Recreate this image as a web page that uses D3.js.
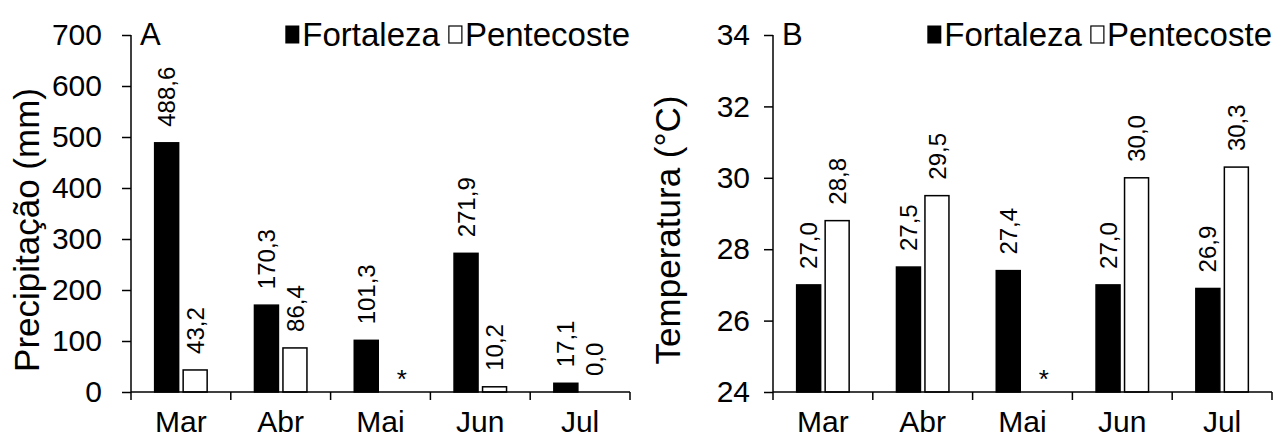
<!DOCTYPE html>
<html>
<head>
<meta charset="utf-8">
<script src="https://cdn.jsdelivr.net/npm/d3@7"></script>
<style>
  body { margin: 0; background: #fff; }
  text { font-family: "Liberation Sans", Arial, sans-serif; fill: #000; }
</style>
</head>
<body>
<svg id="chart" width="1275" height="441"></svg>
<script>
// Data
var months = ['Mar', 'Abr', 'Mai', 'Jun', 'Jul'];
var series = ['Fortaleza', 'Pentecoste'];
// null = no data (marked with *)
var rainFortaleza = [488.6, 170.3, 101.3, 271.9, 17.1];
var rainPentecoste = [43.2, 86.4, null, 10.2, 0.0];
var tempFortaleza = [27.0, 27.5, 27.4, 27.0, 26.9];
var tempPentecoste = [28.8, 29.5, null, 30.0, 30.3];
var rainTicks = [0, 100, 200, 300, 400, 500, 600, 700];
var tempTicks = [24, 26, 28, 30, 32, 34];

var svg = d3.select('#chart');
var fmt = function(v) { return v.toFixed(1).replace('.', ','); };

function drawPanel(opts) {
    var x0 = opts.left, y0 = 35, w = 499, h = 357;
    var g = svg.append('g').attr('transform', 'translate(' + x0 + ',' + y0 + ')');

    var x = d3.scaleBand().domain(months).range([0, w]).padding(0);
    var step = 28.5;
    var x1 = d3.scaleBand().domain(series)
        .range([0, x.bandwidth()])
        .paddingInner(4.5 / step)
        .paddingOuter((x.bandwidth() / step - 2 + 4.5 / step) / 2);
    var y = d3.scaleLinear().domain(opts.domain).range([h, 0]);

    // rows of data
    var rows = [];
    months.forEach(function(m, i) {
        rows.push({ m: m, s: 'Fortaleza', v: opts.a[i] });
        rows.push({ m: m, s: 'Pentecoste', v: opts.b[i] });
    });

    // bars
    g.selectAll('rect.bar').data(rows.filter(function(d) { return d.v !== null && d.v > 0; }))
        .enter().append('rect')
        .attr('class', 'bar')
        .attr('x', function(d) { return x(d.m) + x1(d.s); })
        .attr('y', function(d) { return y(d.v); })
        .attr('width', x1.bandwidth())
        .attr('height', function(d) { return h - y(d.v); })
        .attr('fill', function(d) { return d.s === 'Fortaleza' ? '#000' : '#fff'; })
        .attr('stroke', '#000')
        .attr('stroke-width', 1.5);

    // value labels
    g.selectAll('text.val').data(rows.filter(function(d) { return d.v !== null; }))
        .enter().append('text')
        .attr('class', 'val')
        .attr('transform', function(d) {
            var cx = x(d.m) + x1(d.s) + x1.bandwidth() / 2;
            return 'translate(' + cx + ',' + (y(d.v) - opts.labelGap) + ') rotate(-90)';
        })
        .attr('dy', '0.36em')
        .style('font-size', '24px')
        .text(function(d) { return fmt(d.v); });

    // missing marker
    g.selectAll('text.miss').data(rows.filter(function(d) { return d.v === null; }))
        .enter().append('text')
        .attr('class', 'miss')
        .attr('x', function(d) { return x(d.m) + x1(d.s) + x1.bandwidth() / 2 + 7; })
        .attr('y', h - 4)
        .attr('text-anchor', 'middle')
        .style('font-size', '26px')
        .text('*');

    // y axis
    var yAxis = g.append('g')
        .call(d3.axisLeft(y).tickValues(opts.ticks).tickSize(9).tickPadding(opts.tickPad)
            .tickFormat(function(d) { return d; }));
    yAxis.selectAll('text').style('font-size', '30px').attr('font-family', null);
    yAxis.select('.domain').attr('d', 'M0,0V' + h);
    yAxis.selectAll('line, path').attr('stroke', '#000').attr('stroke-width', 1.5);

    // x axis
    var xAxis = g.append('g').attr('transform', 'translate(0,' + h + ')')
        .call(d3.axisBottom(x).tickSize(0).tickPadding(19));
    xAxis.selectAll('text').style('font-size', '30px').attr('font-family', null);
    xAxis.select('.domain').attr('d', 'M0,0H' + w);
    xAxis.selectAll('path').attr('stroke', '#000').attr('stroke-width', 1.5);
    xAxis.selectAll('line.sep').data(d3.range(months.length + 1))
        .enter().append('line').attr('class', 'sep')
        .attr('x1', function(i) { return i * x.step(); })
        .attr('x2', function(i) { return i * x.step(); })
        .attr('y1', 0).attr('y2', 8)
        .attr('stroke', '#000').attr('stroke-width', 1.5);

    // axis title
    svg.append('text')
        .attr('transform', 'translate(' + opts.titleX + ',' + opts.titleY + ') rotate(-90)')
        .attr('text-anchor', 'middle')
        .attr('dy', '0.35em')
        .style('font-size', '35px')
        .text(opts.title);

    // panel letter
    g.append('text').attr('x', 9).attr('y', 10).style('font-size', '31px').text(opts.letter);

    // legend, right aligned to the end of the x axis
    var lg = g.append('g');
    var t2 = lg.append('text').attr('y', 11).style('font-size', '33px').text(series[1]);
    var t1 = lg.append('text').attr('y', 11).style('font-size', '33px').text(series[0]);
    var w2 = t2.node().getComputedTextLength(), w1 = t1.node().getComputedTextLength();
    var p = w - w2;
    t2.attr('x', p);
    lg.append('rect').attr('x', p - 16).attr('y', -9).attr('width', 13).attr('height', 17)
        .attr('fill', '#fff').attr('stroke', '#000').attr('stroke-width', 1.2);
    p = p - 25 - w1;
    t1.attr('x', p);
    lg.append('rect').attr('x', p - 17).attr('y', -9.5).attr('width', 14).attr('height', 18)
        .attr('fill', '#000');
}

drawPanel({ left: 131, domain: [0, 700], ticks: rainTicks, a: rainFortaleza, b: rainPentecoste,
    title: 'Precipitação (mm)', titleX: 27, titleY: 230, letter: 'A', tickPad: 20, labelGap: 16 });
drawPanel({ left: 773, domain: [24, 34], ticks: tempTicks, a: tempFortaleza, b: tempPentecoste,
    title: 'Temperatura (°C)', titleX: 668, titleY: 230, letter: 'B', tickPad: 14, labelGap: 16 });
</script>
</body>
</html>
